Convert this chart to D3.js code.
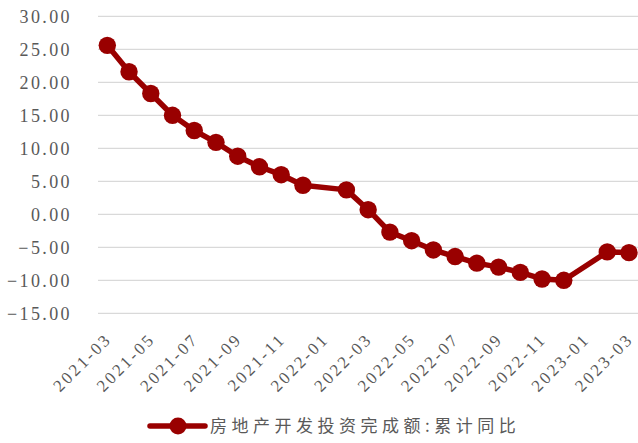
<!DOCTYPE html>
<html>
<head>
<meta charset="utf-8">
<script src="https://cdn.jsdelivr.net/npm/d3@7/dist/d3.min.js"></script>
<style>
  body { margin: 0; background: #fff; }
  svg { display: block; }
  .ylab { font-family: 'Liberation Serif', serif; font-size: 18px; fill: #595959; letter-spacing: 2.4px; }
  .xlab { font-family: 'Liberation Serif', serif; font-size: 17px; fill: #595959; letter-spacing: 2.5px; }
  .legend-text { font-family: 'Noto Sans CJK SC', sans-serif; font-size: 17px; fill: #595959; letter-spacing: 4.5px; }
</style>
</head>
<body>
<svg width="638" height="443"></svg>
<script>
const months = ['2021-03', '2021-04', '2021-05', '2021-06', '2021-07', '2021-08', '2021-09', '2021-10', '2021-11', '2021-12',
  '2022-02', '2022-03', '2022-04', '2022-05', '2022-06', '2022-07', '2022-08', '2022-09', '2022-10', '2022-11', '2022-12',
  '2023-02', '2023-03'];
const values = [25.6, 21.6, 18.3, 15.0, 12.7, 10.9, 8.8, 7.2, 6.0, 4.4,
  3.7, 0.7, -2.7, -4.0, -5.4, -6.4, -7.4, -8.0, -8.8, -9.8, -10.0,
  -5.7, -5.8];
const xTicks = ['2021-03', '2021-05', '2021-07', '2021-09', '2021-11', '2022-01', '2022-03', '2022-05', '2022-07',
  '2022-09', '2022-11', '2023-01', '2023-03'];
const yTicks = [30, 25, 20, 15, 10, 5, 0, -5, -10, -15];
const seriesName = '房地产开发投资完成额:累计同比';

const monthIndex = s => {
  const [y, m] = s.split('-').map(Number);
  return (y - 2021) * 12 + (m - 3);
};

const data = months.map((m, i) => ({ i: monthIndex(m), v: values[i] }));

const svg = d3.select('svg');
const x = d3.scaleLinear().domain([0, 24]).range([107.3, 629]);
const y = d3.scaleLinear().domain([-15, 30]).range([313.3, 16.3]);
const color = '#990000';

// gridlines
svg.append('g')
  .selectAll('line')
  .data(yTicks)
  .enter()
  .append('line')
  .attr('x1', 98)
  .attr('x2', 638)
  .attr('y1', d => y(d))
  .attr('y2', d => y(d))
  .attr('stroke', '#d9d9d9')
  .attr('stroke-width', 1.3);

// y labels
svg.append('g')
  .selectAll('text')
  .data(yTicks)
  .enter()
  .append('text')
  .attr('class', 'ylab')
  .attr('x', 72)
  .attr('y', d => y(d))
  .attr('dy', '0.35em')
  .attr('text-anchor', 'end')
  .text(d => d3.format('.2f')(d).replace('-', '−'));

// x labels
svg.append('g')
  .selectAll('text')
  .data(xTicks)
  .enter()
  .append('text')
  .attr('class', 'xlab')
  .attr('text-anchor', 'end')
  .attr('dy', '0.35em')
  .attr('transform', d => `translate(${x(monthIndex(d)) + 1}, 336) rotate(-45)`)
  .text(d => d);

// line + markers
const line = d3.line().x(d => x(d.i)).y(d => y(d.v));
svg.append('path')
  .datum(data)
  .attr('d', line)
  .attr('fill', 'none')
  .attr('stroke', color)
  .attr('stroke-width', 5.5)
  .attr('stroke-linejoin', 'round');

svg.append('g')
  .selectAll('circle')
  .data(data)
  .enter()
  .append('circle')
  .attr('cx', d => x(d.i))
  .attr('cy', d => y(d.v))
  .attr('r', 8.7)
  .attr('fill', color);

// legend
const lg = svg.append('g');
lg.append('line')
  .attr('x1', 150).attr('x2', 205)
  .attr('y1', 426).attr('y2', 426)
  .attr('stroke', color)
  .attr('stroke-width', 5.5)
  .attr('stroke-linecap', 'round');
lg.append('circle')
  .attr('cx', 178).attr('cy', 426).attr('r', 8.5)
  .attr('fill', color);
lg.append('text')
  .attr('class', 'legend-text')
  .attr('x', 210)
  .attr('y', 426)
  .attr('dy', '0.35em')
  .text(seriesName);
</script>
</body>
</html>
